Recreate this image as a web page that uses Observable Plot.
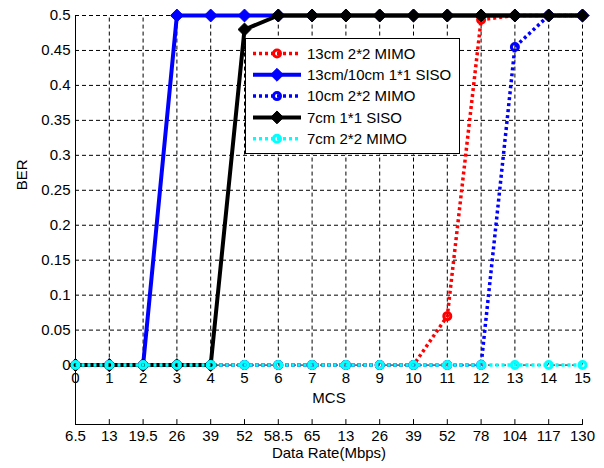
<!DOCTYPE html>
<html><head><meta charset="utf-8">
<script src="https://cdn.jsdelivr.net/npm/d3@7"></script>
<script src="https://cdn.jsdelivr.net/npm/@observablehq/plot@0.6"></script>
<style>
body{margin:0;background:#fff;}
#wrap{position:relative;width:604px;height:468px;font-family:"Liberation Sans",Arial,sans-serif;}
#legend{position:absolute;left:245px;top:38px;width:215px;height:116px;border:1px solid #000;background:#fff;box-sizing:border-box;}
#legend svg{display:block;}
</style></head><body><div id="wrap"></div>
<script>
const mcs = [0,1,2,3,4,5,6,7,8,9,10,11,12,13,14,15];
const dataRates = ["6.5","13","19.5","26","39","52","58.5","65","13","26","39","52","78","104","117","130"];
const yTicks = [0,0.05,0.1,0.15,0.2,0.25,0.3,0.35,0.4,0.45,0.5];
const seriesNames = ["13cm 2*2 MIMO","13cm/10cm 1*1 SISO","10cm 2*2 MIMO","7cm 1*1 SISO","7cm 2*2 MIMO"];
const mimo13 = [0,0,0,0,0,0,0,0,0,0,0,0.07,0.494,0.5,0.5,0.5];
const siso1310 = [0,0,0,0.5,0.5,0.5,0.5,0.5,0.5,0.5,0.5,0.5,0.5,0.5,0.5,0.5];
const mimo10 = [0,0,0,0,0,0,0,0,0,0,0,0,0,0.455,0.5,0.5];
const siso7 = [0,0,0,0,0,0.48,0.5,0.5,0.5,0.5,0.5,0.5,0.5,0.5,0.5,0.5];
const mimo7 = [0,0,0,0,0,0,0,0,0,0,0,0,0,0,0,0];

const yBottom = -0.085;
const FONT = '"Liberation Sans",Arial,sans-serif';

const styles = [
  {vals: mimo13, color: "#ff0000", dotted: true, sym: "circle"},
  {vals: siso1310, color: "#0000ff", dotted: false, sym: "diamond2"},
  {vals: mimo10, color: "#0000ff", dotted: true, sym: "circle"},
  {vals: siso7, color: "#000000", dotted: false, sym: "diamond2"},
  {vals: mimo7, color: "#00ffff", dotted: true, sym: "circle"}
];

const seriesMarks = styles.flatMap(s => {
  const line = Plot.line(mcs, {
    x: d => d, y: (d, i) => s.vals[i], stroke: s.color,
    strokeWidth: s.dotted ? 3.5 : 4, strokeDasharray: s.dotted ? "3,3" : null,
    strokeLinecap: "butt", curve: "linear"
  });
  const dots = s.sym === "circle"
    ? Plot.dot(mcs, {x: d => d, y: (d, i) => s.vals[i], r: 3.5, stroke: s.color, strokeWidth: 3, fill: "none"})
    : Plot.dot(mcs, {x: d => d, y: (d, i) => s.vals[i], r: 5.8, symbol: "diamond2", fill: s.color, stroke: s.color, strokeWidth: 1});
  return [line, dots];
});

const tickShape = {draw(context, l) { context.moveTo(0, 0); context.lineTo(0, -l); }};

const chart = Plot.plot({
  width: 604, height: 468,
  marginLeft: 75, marginRight: 22, marginTop: 15, marginBottom: 44,
  x: {domain: [0, 15]},
  y: {domain: [yBottom, 0.5]},
  style: {fontFamily: FONT, fontSize: "15px", color: "#000", background: "#fff"},
  marks: [
    Plot.ruleY(yTicks, {y: d => d, x1: 0, x2: 15, stroke: "#000", strokeWidth: 1, strokeDasharray: "4,3"}),
    Plot.ruleX(mcs.slice(1), {x: d => d, y1: 0, y2: 0.5, stroke: "#000", strokeWidth: 1, strokeDasharray: "4,3"}),
    Plot.ruleX([0], {x: d => d, y1: yBottom, y2: 0.5, stroke: "#000", strokeWidth: 1}),
    Plot.ruleY([yBottom], {y: d => d, x1: 0, x2: 15, stroke: "#000", strokeWidth: 1}),
    Plot.vector(mcs, {x: d => d, y: yBottom, length: 5, rotate: 0, anchor: "start", shape: tickShape, stroke: "#000", strokeWidth: 1}),
    Plot.axisY({ticks: yTicks, tickSize: 0, tickPadding: 5, tickFormat: d => String(d), label: null, fontSize: 15}),
    Plot.axisX({ticks: mcs, tickSize: 0, tickPadding: 6, tickFormat: d => dataRates[d], label: null, fontSize: 15}),
    Plot.text(mcs, {x: d => d, y: 0, text: d => String(d), dy: 13, fontSize: 15}),
    Plot.text(["MCS"], {y: () => 0, text: d => d, dy: 33, fontSize: 15}),
    Plot.text(["Data Rate(Mbps)"], {frameAnchor: "bottom", text: d => d, dy: 33, fontSize: 15}),
    Plot.text(["BER"], {y: () => 0.25, text: d => d, frameAnchor: "left", dx: -53, rotate: -90, fontSize: 15}),
    ...seriesMarks
  ]
});

const wrap = document.getElementById("wrap");
wrap.appendChild(chart);

// legend
const leg = document.createElement("div");
leg.id = "legend";
wrap.appendChild(leg);
const lsvg = d3.select(leg).append("svg").attr("width", 213).attr("height", 114);
styles.forEach((s, i) => {
  const y = 14.5 + i * 21.3;
  lsvg.append("line").attr("x1", 7).attr("x2", 55).attr("y1", y).attr("y2", y)
    .attr("stroke", s.color).attr("stroke-width", s.dotted ? 3.5 : 4)
    .attr("stroke-dasharray", s.dotted ? "3,3" : null);
  if (s.sym === "circle") {
    lsvg.append("circle").attr("cx", 31).attr("cy", y).attr("r", 3.5)
      .attr("fill", "none").attr("stroke", s.color).attr("stroke-width", 3);
  } else {
    lsvg.append("path").attr("d", d3.symbol(d3.symbolDiamond2, Math.PI * 5.8 * 5.8)())
      .attr("transform", `translate(31,${y})`).attr("fill", s.color).attr("stroke", s.color);
  }
  lsvg.append("text").attr("x", 61).attr("y", y).attr("dy", "0.35em")
    .attr("font-family", FONT).attr("font-size", 15).attr("fill", "#000")
    .text(seriesNames[i]);
});
</script>
</body></html>
